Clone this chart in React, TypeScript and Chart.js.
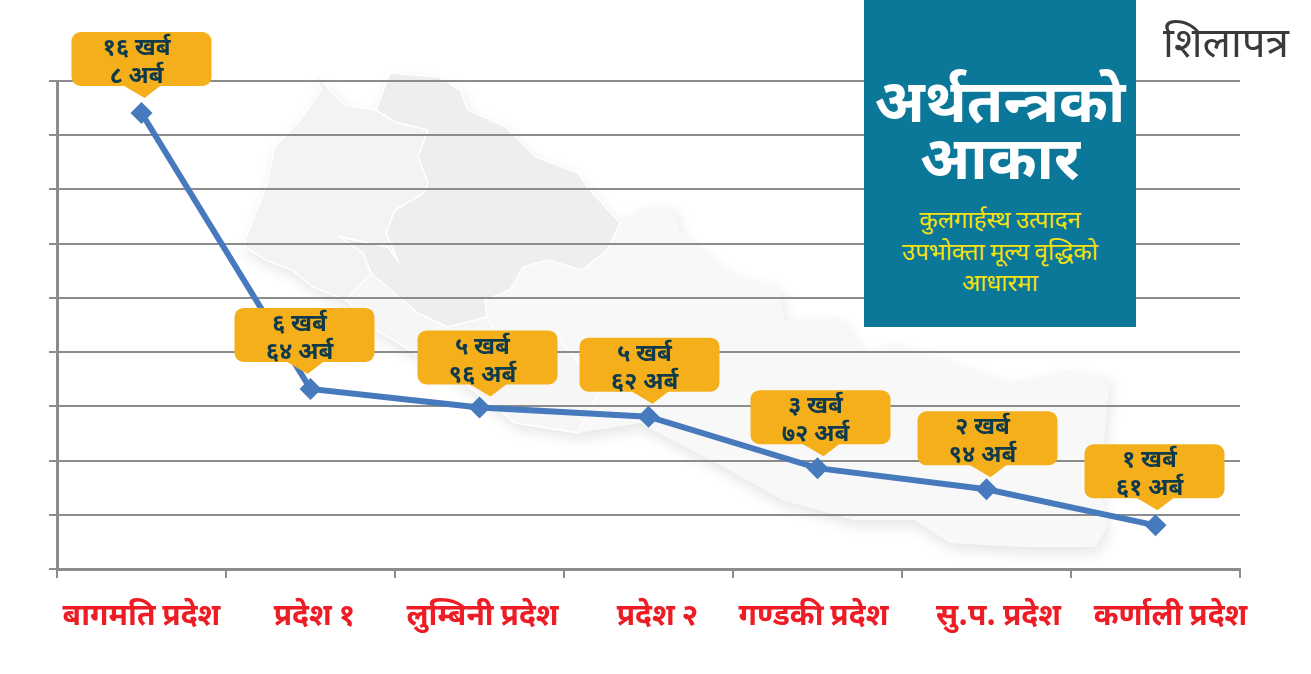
import React, { useEffect, useRef } from "react";
import { Chart, registerables } from "chart.js";
Chart.register(...registerables);

const provinces = ["बागमति प्रदेश", "प्रदेश १", "लुम्बिनी प्रदेश", "प्रदेश २", "गण्डकी प्रदेश", "सु.प. प्रदेश", "कर्णाली प्रदेश"];
const gdpValues = [16.82, 6.64, 5.96, 5.62, 3.72, 2.94, 1.61];
const kharbaLabels = ["१६ खर्ब", "६ खर्ब", "५ खर्ब", "५ खर्ब", "३ खर्ब", "२ खर्ब", "१ खर्ब"];
const arbaLabels = ["८ अर्ब", "६४ अर्ब", "९६ अर्ब", "६२ अर्ब", "७२ अर्ब", "९४ अर्ब", "६१ अर्ब"];
const calloutLift = [81, 81, 77, 79, 78, 78, 81];
const calloutShift = [0, -6, 8, 1, 3, 1, -1];
const labelShift = [0, 4, 3, 9, -4, 12, 15];
const panelLines = ["कुलगार्हस्थ उत्पादन", "उपभोक्ता मूल्य वृद्धिको", "आधारमा"];
const FONT = '"Noto Sans CJK SC", "Noto Sans", "DejaVu Sans", sans-serif';

// Faint decorative map silhouette behind the chart (not data)
const mapOutline = [[315,72],[330,90],[345,105],[376,110],[390,73],[439,77],[460,90],[468,110],[506,127],[536,157],[578,173],[590,190],[620,223],[641,207],[675,207],[679,230],[729,273],[780,287],[784,320],[839,317],[864,353],[893,343],[928,353],[1010,383],[1068,370],[1110,377],[1100,487],[1107,527],[1096,547],[1021,547],[950,543],[914,520],[854,520],[782,500],[729,470],[640,423],[578,433],[515,423],[460,380],[376,330],[346,300],[313,287],[292,270],[266,260],[245,247],[245,240],[266,187],[275,147],[300,120],[321,90]];
const mapWest = [[315,72],[330,90],[345,105],[376,110],[395,122],[428,130],[418,157],[428,183],[424,193],[395,210],[386,233],[399,263],[388,247],[340,237],[363,253],[371,273],[346,300],[313,287],[292,270],[266,260],[245,247],[245,240],[266,187],[275,147],[300,120],[321,90]];
const mapKarnali = [[390,73],[439,77],[460,90],[468,110],[506,127],[536,157],[578,173],[590,190],[620,223],[607,250],[582,270],[548,260],[523,267],[510,290],[485,300],[487,317],[447,327],[418,313],[371,273],[363,253],[340,237],[388,247],[399,263],[386,233],[395,210],[424,193],[428,183],[418,157],[428,130],[395,122],[376,110]];
const mapLumbini = [[371,273],[418,313],[447,327],[487,317],[510,360],[560,340],[600,390],[578,433],[515,423],[460,380],[376,330],[346,300]];

function tracePoly(ctx: CanvasRenderingContext2D, pts: number[][]) {
  ctx.beginPath();
  pts.forEach(([x, y], i) => (i ? ctx.lineTo(x, y) : ctx.moveTo(x, y)));
  ctx.closePath();
}

const mapPlugin = {
  id: "mapBackdrop",
  beforeDraw(chart: any) {
    const { ctx } = chart;
    ctx.save();
    ctx.shadowColor = "rgba(0,0,0,0.10)";
    ctx.shadowBlur = 14;
    ctx.shadowOffsetX = 2;
    ctx.shadowOffsetY = 6;
    ctx.fillStyle = "#f8f8f9";
    tracePoly(ctx, mapOutline);
    ctx.fill();
    ctx.shadowColor = "transparent";
    ctx.strokeStyle = "#ffffff";
    ctx.lineWidth = 1.5;
    ([[mapWest, "#f3f3f4"], [mapLumbini, "#f6f6f7"], [mapKarnali, "#eeeeef"]] as [number[][], string][]).forEach(([p, c]) => {
      ctx.fillStyle = c;
      tracePoly(ctx, p);
      ctx.fill();
      ctx.stroke();
    });
    ctx.restore();
  },
};

const axisLabelPlugin = {
  id: "axisLabels",
  afterDraw(chart: any) {
    const { ctx, scales } = chart;
    const x = scales.x;
    ctx.save();
    ctx.fillStyle = "#EE1C25";
    ctx.font = `bold 30px ${FONT}`;
    ctx.textAlign = "center";
    ctx.textBaseline = "middle";
    provinces.forEach((name, i) => {
      ctx.fillText(name, x.getPixelForValue(i) + labelShift[i], x.top + 45);
    });
    ctx.restore();
  },
};

const calloutPlugin = {
  id: "callouts",
  afterDatasetsDraw(chart: any) {
    const { ctx } = chart;
    const meta = chart.getDatasetMeta(0);
    meta.data.forEach((pt: any, i: number) => {
      const cx = pt.x + calloutShift[i];
      const top = pt.y - calloutLift[i];
      ctx.save();
      ctx.fillStyle = "#F4AF1B";
      ctx.beginPath();
      ctx.roundRect(cx - 70, top, 140, 54, 9);
      ctx.fill();
      ctx.beginPath();
      ctx.moveTo(cx - 19, top + 53);
      ctx.lineTo(cx + 3, top + 66);
      ctx.lineTo(cx + 20, top + 53);
      ctx.closePath();
      ctx.fill();
      ctx.fillStyle = "#0E3A4C";
      ctx.font = `bold 24px ${FONT}`;
      ctx.textAlign = "center";
      ctx.textBaseline = "middle";
      ctx.fillText(kharbaLabels[i], cx - 5, top + 14);
      ctx.fillText(arbaLabels[i], cx - 5, top + 42);
      ctx.restore();
    });
  },
};

export default function App() {
  const ref = useRef<HTMLCanvasElement>(null);
  useEffect(() => {
    const chart = new Chart(ref.current!, {
      type: "line",
      data: {
        labels: provinces,
        datasets: [{
          data: gdpValues,
          borderColor: "#4779BD",
          backgroundColor: "#4779BD",
          borderWidth: 6,
          pointStyle: "rectRot",
          pointRadius: 11,
          pointBorderWidth: 0,
          tension: 0,
        }],
      },
      options: {
        animation: false,
        responsive: false,
        layout: { padding: { left: 49, right: 71, top: 81, bottom: 0 } },
        plugins: { legend: { display: false }, tooltip: { enabled: false } },
        scales: {
          x: {
            offset: true,
            afterFit: (s: any) => { s.height = 105; },
            grid: { offset: true, drawOnChartArea: false, color: "#8C8C8C", lineWidth: 2, tickLength: 9 },
            border: { color: "#8C8C8C", width: 3 },
            ticks: { display: false, autoSkip: false },
          },
          y: {
            min: 0,
            max: 18,
            grid: { color: "#8C8C8C", lineWidth: 2, tickLength: 8 },
            border: { color: "#8C8C8C", width: 3 },
            ticks: { stepSize: 2, display: false },
          },
        },
      },
      plugins: [mapPlugin, calloutPlugin, axisLabelPlugin],
    });
    return () => chart.destroy();
  }, []);
  return (
    <div style={{ position: "absolute", left: 0, top: 0, width: 1311, height: 674, background: "#fff", overflow: "hidden" }}>
      <canvas ref={ref} width={1311} height={674} style={{ position: "absolute", left: 0, top: 0 }} />
      <div style={{ position: "absolute", left: 864, top: 0, width: 272, height: 327, background: "#0B7899", textAlign: "center", fontFamily: FONT }}>
        <div style={{ color: "#fff", fontWeight: 700, fontSize: 59, lineHeight: "57px", marginTop: 68, whiteSpace: "nowrap" }}>अर्थतन्त्रको<br />आकार</div>
        <div style={{ color: "#F6E10F", fontSize: 24, lineHeight: "31.5px", marginTop: 20, whiteSpace: "nowrap" }}>
          {panelLines.map((l) => <div key={l}>{l}</div>)}
        </div>
      </div>
      <div style={{ position: "absolute", left: 1150, top: 10, width: 152, textAlign: "center", fontFamily: FONT, fontSize: 42, lineHeight: "58px", color: "#3A3A3A" }}>शिलापत्र</div>
    </div>
  );
}
